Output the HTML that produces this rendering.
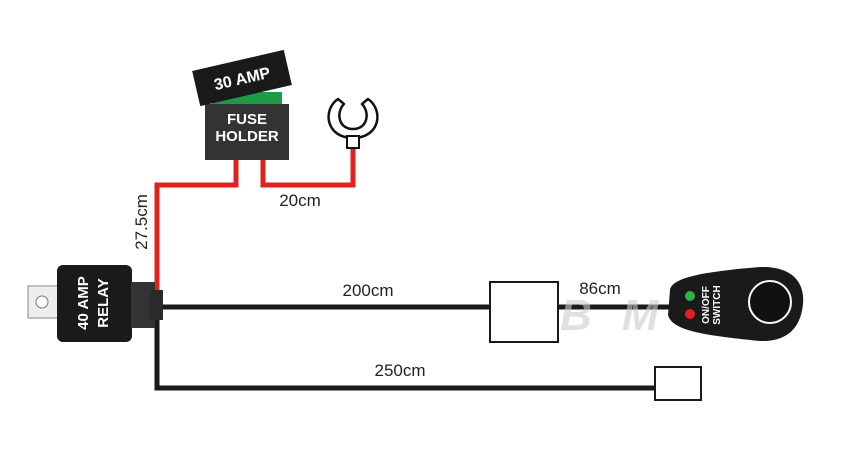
<!DOCTYPE html>
<html><head><style>body{margin:0;background:#fff}</style></head><body>
<svg width="850" height="450" xmlns="http://www.w3.org/2000/svg" font-family="Liberation Sans, sans-serif">
<rect width="850" height="450" fill="#fff"/>
<!-- red wires -->
<polyline points="236,160 236,185 157,185 157,292" fill="none" stroke="#e0221e" stroke-width="5"/>
<polyline points="263,160 263,185 353,185 353,145" fill="none" stroke="#e0221e" stroke-width="5"/>
<!-- black wires -->
<polyline points="158,307 670,307" fill="none" stroke="#1a1a1a" stroke-width="5"/>
<polyline points="157,320 157,388 656,388" fill="none" stroke="#1a1a1a" stroke-width="5"/>
<!-- watermark -->
<text x="560" y="330" font-size="44" font-weight="bold" font-style="italic" fill="#ccc" opacity="0.6" letter-spacing="30">BMT</text>
<!-- fuse -->
<rect x="212" y="92" width="70" height="16" fill="#1d9a45"/>
<rect x="205" y="104" width="84" height="56" fill="#333"/>
<text x="247" y="124" font-size="15" font-weight="bold" fill="#fff" text-anchor="middle">FUSE</text>
<text x="247" y="141" font-size="15" font-weight="bold" fill="#fff" text-anchor="middle">HOLDER</text>
<g transform="rotate(-13 242 78)"><rect x="195" y="60" width="94" height="36" fill="#1a1a1a"/>
<text x="242" y="84" font-size="16" font-weight="bold" fill="#fff" text-anchor="middle">30 AMP</text></g>
<!-- ring terminal -->
<path d="M338,99 C322,110 326,138 353,138 C380,138 384,110 368,99 L362,104 C370,112 368,129 353,129 C338,129 336,112 344,104 Z" fill="#fff" stroke="#111" stroke-width="2.5" stroke-linejoin="round"/>
<rect x="347" y="136" width="12" height="12" fill="#fff" stroke="#111" stroke-width="2"/>
<!-- relay -->
<rect x="28" y="286" width="32" height="32" fill="#eee" stroke="#888"/>
<circle cx="42" cy="302" r="6" fill="#fff" stroke="#777"/>
<rect x="57" y="265" width="75" height="77" rx="6" fill="#1a1a1a"/>
<g transform="rotate(-90 95 303)"><text x="95" y="296" font-size="15" font-weight="bold" fill="#fff" text-anchor="middle">40 AMP</text>
<text x="95" y="316" font-size="15" font-weight="bold" fill="#fff" text-anchor="middle">RELAY</text></g>
<rect x="131" y="282" width="24" height="46" fill="#333"/>
<rect x="150" y="290" width="13" height="30" fill="#2a2a2a"/>
<!-- box1 -->
<rect x="490" y="282" width="68" height="60" fill="#fff" stroke="#1a1a1a" stroke-width="2"/>
<!-- switch -->
<path d="M670,290 C672,278 700,272 760,267 C795,266 805,285 803,304 C801,325 790,342 760,341 C700,335 672,330 668,315 Z" fill="#1a1a1a"/>
<circle cx="770" cy="302" r="21" fill="#111" stroke="#fff" stroke-width="2"/>
<circle cx="690" cy="296" r="5" fill="#2db34a"/>
<circle cx="690" cy="314" r="5" fill="#e02020"/>
<g transform="rotate(-90 712 305)"><text x="712" y="302" font-size="10" font-weight="bold" fill="#fff" text-anchor="middle">ON/OFF</text>
<text x="712" y="313" font-size="10" font-weight="bold" fill="#fff" text-anchor="middle">SWITCH</text></g>
<!-- small box -->
<rect x="655" y="367" width="46" height="33" fill="#fff" stroke="#1a1a1a" stroke-width="2"/>
<!-- labels -->
<g font-size="17" fill="#222">
<text x="300" y="206" text-anchor="middle">20cm</text>
<text x="368" y="296" text-anchor="middle">200cm</text>
<text x="600" y="294" text-anchor="middle">86cm</text>
<text x="400" y="376" text-anchor="middle">250cm</text>
<text transform="translate(147,222) rotate(-90)" text-anchor="middle">27.5cm</text>
</g>
</svg>
</body></html>
